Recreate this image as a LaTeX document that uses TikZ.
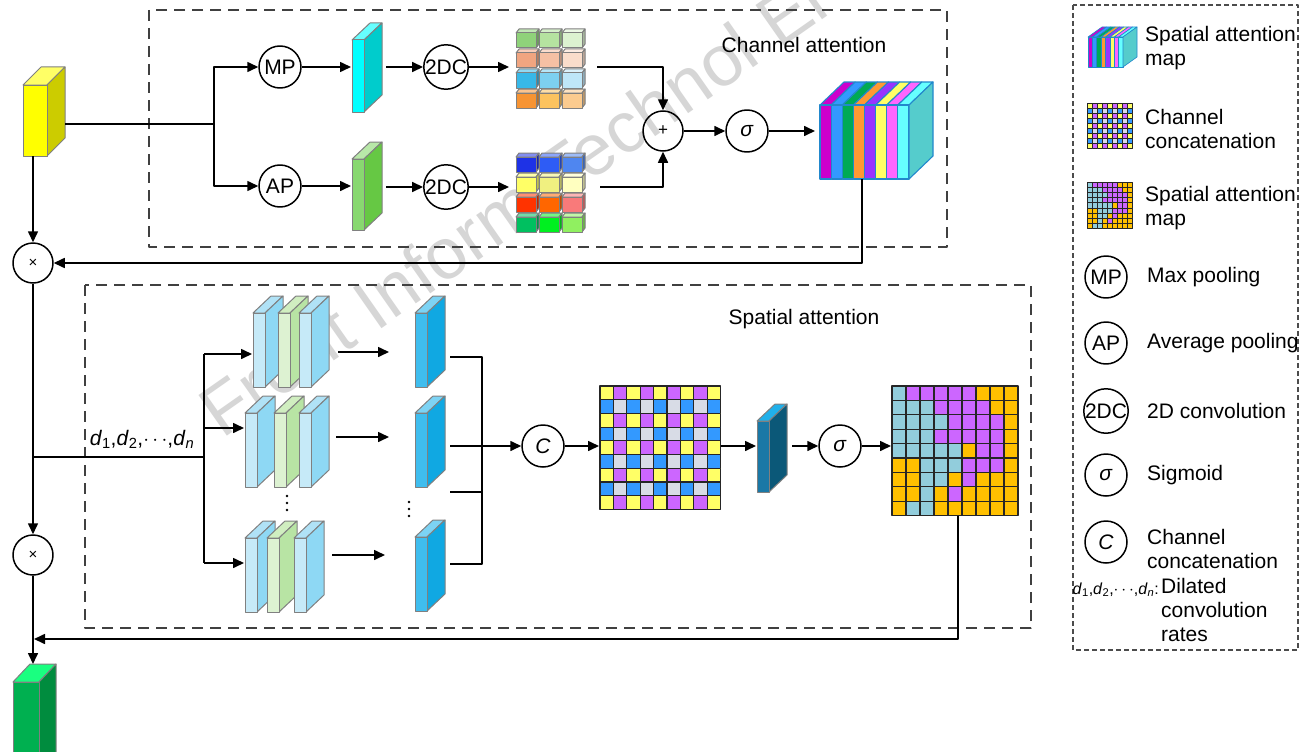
\documentclass[tikz,border=0pt]{standalone}
\usepackage{fontspec}
\setmainfont{Liberation Sans}
\usetikzlibrary{arrows.meta}
\definecolor{yF}{HTML}{FFFF00}\definecolor{yS}{HTML}{CCCC00}\definecolor{yT}{HTML}{FFFF66}
\definecolor{cyF}{HTML}{00FFFF}\definecolor{cyS}{HTML}{00CCCC}\definecolor{cyT}{HTML}{66FFFF}
\definecolor{apF}{HTML}{88D870}\definecolor{apS}{HTML}{66C844}\definecolor{apT}{HTML}{B8E8A8}
\definecolor{lbF}{HTML}{C6EAF8}\definecolor{lbS}{HTML}{8ED8F4}\definecolor{lbT}{HTML}{B0E2F6}
\definecolor{lgF}{HTML}{DDF2D2}\definecolor{lgS}{HTML}{B8E4A4}\definecolor{lgT}{HTML}{D0EEC0}
\definecolor{bF}{HTML}{3FBDEE}\definecolor{bS}{HTML}{10A8E2}\definecolor{bT}{HTML}{7CD3F4}
\definecolor{dkF}{HTML}{1A78A6}\definecolor{dkS}{HTML}{0B5878}\definecolor{dkT}{HTML}{20B0EA}
\definecolor{gnF}{HTML}{00B050}\definecolor{gnS}{HTML}{008C3E}\definecolor{gnT}{HTML}{1AFF80}
\definecolor{chk0}{HTML}{FFFF66}\definecolor{chk1}{HTML}{CC66FF}\definecolor{chk2}{HTML}{3399FF}\definecolor{chk3}{HTML}{D8DCE6}
\definecolor{smB}{HTML}{92CDDC}\definecolor{smP}{HTML}{CC66FF}\definecolor{smO}{HTML}{FFC000}
\definecolor{cm1}{HTML}{CC00CC}\definecolor{cm2}{HTML}{3399FF}\definecolor{cm3}{HTML}{00AA55}\definecolor{cm4}{HTML}{FF9933}
\definecolor{cm5}{HTML}{9933FF}\definecolor{cm6}{HTML}{FFFF66}\definecolor{cm7}{HTML}{FF66FF}\definecolor{cm8}{HTML}{66FFFF}
\definecolor{cmS}{HTML}{55CCCC}\definecolor{cmE}{HTML}{2288CC}
% cube grid colours
\definecolor{t00}{HTML}{8FD27A}\definecolor{t01}{HTML}{B5E3A0}\definecolor{t02}{HTML}{DCF2D0}
\definecolor{t10}{HTML}{F0A580}\definecolor{t11}{HTML}{F5C0A4}\definecolor{t12}{HTML}{FADDCB}
\definecolor{t20}{HTML}{38B8E8}\definecolor{t21}{HTML}{7DD0F0}\definecolor{t22}{HTML}{BEE6F8}
\definecolor{t30}{HTML}{F79433}\definecolor{t31}{HTML}{FCC35F}\definecolor{t32}{HTML}{FBCB8F}
\definecolor{u00}{HTML}{1E32E6}\definecolor{u01}{HTML}{2E5CF5}\definecolor{u02}{HTML}{4F86F0}
\definecolor{u10}{HTML}{FFFF66}\definecolor{u11}{HTML}{F0F080}\definecolor{u12}{HTML}{FFFFC0}
\definecolor{u20}{HTML}{FF3300}\definecolor{u21}{HTML}{FF6600}\definecolor{u22}{HTML}{F97A7A}
\definecolor{u30}{HTML}{00C060}\definecolor{u31}{HTML}{00F020}\definecolor{u32}{HTML}{90F060}

% cuboid: x y (top-left of front) w h dx dy front side top
\newcommand\cub[9]{%
  \filldraw[cubedge, fill=#9] (#1,#2) -- ++(#5,-#6) -- ++(#3,0) -- ++(-#5,#6) -- cycle;
  \filldraw[cubedge, fill=#8] (#1+#3,#2) -- ++(#5,-#6) -- ++(0,#4) -- ++(-#5,#6) -- cycle;
  \filldraw[cubedge, fill=#7] (#1,#2) rectangle ++(#3,#4);
}
% channel attention map: x y w h dx dy linewidth
\newcommand\chmap[7]{%
  \foreach \col [count=\i from 0] in {cm1,cm2,cm3,cm4,cm5,cm6,cm7,cm8}{%
    \filldraw[fill=\col, draw=cmE, line width=#7] ({#1+\i*#3/8},#2) -- ++(#5,-#6) -- ++({#3/8},0) -- ++(-#5,#6) -- cycle;
    \filldraw[fill=\col, draw=cmE, line width=#7] ({#1+\i*#3/8},#2) rectangle ++({#3/8},#4);
  }
  \filldraw[fill=cmS, draw=cmE, line width=#7] ({#1+#3},#2) -- ++(#5,-#6) -- ++(0,#4) -- ++(-#5,#6) -- cycle;
}
% checker grid: x y cw ch lw
\newcommand\chkgrid[5]{%
  \foreach \r in {0,...,8}{\foreach \c in {0,...,8}{%
    \pgfmathtruncatemacro\k{mod(\r,2)*2+mod(\c,2)}
    \filldraw[fill=chk\k, draw=black!85, line width=#5] ({#1+\c*#3},{#2+\r*#4}) rectangle ++(#3,#4);
  }}
}
% spatial attention map grid: x y cw ch lw
\newcommand\smap[5]{%
  \foreach \row [count=\r from 0] in {{B,P,P,P,P,P,O,O,O},{B,B,B,P,P,P,P,O,O},{B,B,B,B,P,P,P,P,O},{B,B,B,P,P,P,P,P,O},{B,B,B,B,B,O,P,P,O},{O,O,B,B,B,P,P,P,O},{O,O,B,B,O,P,O,O,O},{O,O,B,O,P,O,O,O,O},{O,B,B,O,O,O,O,O,O}}{%
    \foreach \cl [count=\c from 0] in \row {%
      \filldraw[fill=sm\cl, draw=black!85, line width=#5] ({#1+\c*#3},{#2+\r*#4}) rectangle ++(#3,#4);
    }
  }
}
\newcommand\dseq{\textit{d}\textsubscript{1},\textit{d}\textsubscript{2},$\cdots$,\textit{d}\textsubscript{\textit{n}}}

\begin{document}
\begin{tikzpicture}[x=1pt,y=-1pt,line join=round,
  ln/.style={line width=1.6pt, draw=black},
  arr/.style={ln, -{Triangle[length=11pt,width=10pt]}},
  op/.style={circle, draw, line width=1.5pt, minimum size=42pt, inner sep=0pt, font=\fontsize{21}{21}\selectfont},
  mul/.style={circle, draw, line width=1.5pt, minimum size=40pt, inner sep=0pt, font=\fontsize{15}{15}\selectfont},
  dashbox/.style={draw=black!75, line width=1.5pt, dash pattern=on 11pt off 7pt},
  legbox/.style={draw=black!70, line width=1.2pt, dash pattern=on 5pt off 3pt},
  lbl/.style={font=\fontsize{21}{24}\selectfont, align=left, inner sep=0pt},
  cubedge/.style={draw=black!50, line width=1pt},
  wm/.style={font=\fontsize{72}{72}\selectfont, text=black!16, rotate=35, anchor=base west, inner sep=0pt}]
\useasboundingbox (0,0) rectangle (1301,752);
\clip (0,0) rectangle (1301,752);
\fill[white] (0,0) rectangle (1301,752);
\node[wm] (wm) at (222,440) {Front Inform Technol El};

% dashed frames
\draw[dashbox] (149,10) rectangle (947,247);
\draw[dashbox] (85,285) rectangle (1031,628);
\draw[legbox] (1073,5) rectangle (1298,650);
\node[lbl] (cat) at (804,45) {Channel attention};
\node[lbl] (sat) at (804,319) {Spatial attention};

% ---------- channel attention ----------
\cub{23}{85}{24}{71}{18}{18}{yF}{yS}{yT}
\coordinate (inR) at (65,124);
\coordinate (inB) at (33,156);
\coordinate (j1) at (214,124);
\node[op] (mp) at (280,67) {MP};
\node[op] (ap) at (280,186) {AP};
\draw[ln] (inR) -- (j1);
\draw[arr] (j1) |- (mp);
\draw[arr] (j1) |- (ap);

\cub{352}{40}{12}{72}{18}{17}{cyF}{cyS}{cyT}
\cub{352}{159}{12}{71}{18}{17}{apF}{apS}{apT}
\coordinate (cyL) at (351,67);
\coordinate (cyR) at (386,67);
\coordinate (gnL) at (351,186);
\coordinate (gnR) at (386,187);
\draw[arr] (mp) -- (cyL);
\draw[arr] (ap) -- (gnL);
\node[op] (dc1) at (446,67) {2DC};
\node[op] (dc2) at (446,187) {2DC};
\draw[arr] (cyR) -- (dc1);
\draw[arr] (gnR) -- (dc2);

\foreach \r in {0,...,3}{\foreach \c in {0,...,2}{%
  \cub{516+23*\c}{33+20*\r}{20}{15}{3}{4}{t\r\c}{t\r\c!75!black}{t\r\c!55!white}
  \cub{516+23*\c}{157+20*\r}{20}{15}{3}{4}{u\r\c}{u\r\c!75!black}{u\r\c!55!white}
}}
\coordinate (g1L) at (509,67);
\coordinate (g2L) at (509,187);
\coordinate (g1R) at (597,67);
\coordinate (g2R) at (600,187);
\draw[arr] (dc1) -- (g1L);
\draw[arr] (dc2) -- (g2L);
\node[mul, font=\fontsize{17}{17}\selectfont] (plus) at (663,131) {+};
\node[op] (sig1) at (747,131) {\textit{σ}};
\draw[arr] (g1R) -| (plus);
\draw[arr] (g2R) -| (plus);
\draw[arr] (plus) -- (sig1);

\chmap{820}{105}{89}{74}{24}{23}{1.1pt}
\coordinate (mapL) at (815,131);
\coordinate (mapB) at (862,179);
\draw[arr] (sig1) -- (mapL);

\node[mul] (mul1) at (33,263) {×};
\draw[arr] (inB) -- (mul1);
\draw[arr] (mapB) |- (mul1);

% ---------- spatial attention ----------
\node[mul] (mul2) at (33,555) {×};
\draw[arr] (mul1) -- (mul2);
\coordinate (j2) at (33,457);
\coordinate (j3) at (204,457);
\coordinate (b1) at (204,354);
\coordinate (b2) at (204,428);
\coordinate (b3) at (204,563);
\draw[ln] (j2) -- (j3);
\draw[ln] (b1) -- (b3);
\node[lbl, anchor=base] (dl) at (142,445) {\dseq};
\coordinate (s1L) at (252,354);
\coordinate (s2L) at (244,428);
\coordinate (s3L) at (244,563);
\draw[arr] (b1) -- (s1L);
\draw[arr] (b2) -- (s2L);
\draw[arr] (b3) -- (s3L);

% groups of dilated convolutions
\cub{253}{313}{12}{74}{18}{17}{lbF}{lbS}{lbT}
\cub{278}{313}{12}{74}{18}{17}{lgF}{lgS}{lgT}
\cub{299}{313}{12}{74}{18}{17}{lbF}{lbS}{lbT}
\cub{245}{413}{12}{74}{18}{17}{lbF}{lbS}{lbT}
\cub{274}{413}{12}{74}{18}{17}{lgF}{lgS}{lgT}
\cub{299}{413}{12}{74}{18}{17}{lbF}{lbS}{lbT}
\cub{245}{538}{12}{74}{18}{17}{lbF}{lbS}{lbT}
\cub{267}{538}{12}{74}{18}{17}{lgF}{lgS}{lgT}
\cub{294}{538}{12}{74}{18}{17}{lbF}{lbS}{lbT}
\foreach \yy in {496,503,510}{\fill (287,\yy) circle (1.3);}
\foreach \yy in {502,509,516}{\fill (409,\yy) circle (1.3);}

\coordinate (m1a) at (338,352); \coordinate (m1b) at (389,352);
\coordinate (m2a) at (336,437); \coordinate (m2b) at (389,437);
\coordinate (m3a) at (332,555); \coordinate (m3b) at (385,555);
\draw[arr] (m1a) -- (m1b);
\draw[arr] (m2a) -- (m2b);
\draw[arr] (m3a) -- (m3b);

\cub{415}{313}{12}{74}{18}{17}{bF}{bS}{bT}
\cub{415}{413}{12}{74}{18}{17}{bF}{bS}{bT}
\cub{415}{537}{12}{74}{18}{17}{bF}{bS}{bT}

\coordinate (o1) at (450,357); \coordinate (k1) at (482,357);
\coordinate (o2) at (450,446);
\coordinate (o4) at (450,492); \coordinate (k4) at (482,492);
\coordinate (o3) at (450,564); \coordinate (k3) at (482,564);
\draw[ln] (o1) -- (k1) -- (k3) -- (o3);
\draw[ln] (o4) -- (k4);
\node[op] (cc) at (543,446) {\textit{C}};
\draw[arr] (o2) -- (cc);

\chkgrid{600}{386}{13.4}{13.7}{1.2pt}
\coordinate (gridL) at (599,446);
\coordinate (gridR) at (721,446);
\draw[arr] (cc) -- (gridL);

\cub{757}{421}{12}{71}{18}{17}{dkF}{dkS}{dkT}
\coordinate (dkL) at (756,446);
\coordinate (dkR) at (792,446);
\draw[arr] (gridR) -- (dkL);
\node[op] (sig2) at (840,446) {\textit{σ}};
\draw[arr] (dkR) -- (sig2);

\smap{892}{386}{14}{14.4}{1.2pt}
\coordinate (smL) at (891,446);
\coordinate (smB) at (958,516);
\coordinate (retE) at (34,639);
\draw[arr] (sig2) -- (smL);
\draw[arr] (smB) |- (retE);

\cub{13}{682}{26}{100}{17}{18}{gnF}{gnS}{gnT}
\coordinate (outT) at (33,664);
\draw[arr] (mul2) -- (outT);

% ---------- legend ----------
\chmap{1088}{37}{35}{30}{14}{10}{0.6pt}
\node[lbl, anchor=west] (l1) at (1145,48) {Spatial attention\\map};
\chkgrid{1087}{103}{5.1}{5.1}{0.9pt}
\node[lbl, anchor=west] (l2) at (1145,129) {Channel\\concatenation};
\smap{1087}{182}{5.1}{5.2}{0.9pt}
\node[lbl, anchor=west] (l3) at (1145,208) {Spatial attention\\map};
\node[op] (lmp) at (1106,277) {MP};
\node[lbl, anchor=west] (l4) at (1147,277) {Max pooling};
\node[op] (lap) at (1106,343) {AP};
\node[lbl, anchor=west] (l5) at (1147,343) {Average pooling};
\node[op] (ldc) at (1106,411) {2DC};
\node[lbl, anchor=west] (l6) at (1147,411) {2D convolution};
\node[op] (lsg) at (1106,475) {\textit{σ}};
\node[lbl, anchor=west] (l7) at (1147,475) {Sigmoid};
\node[op] (lcc) at (1106,542) {\textit{C}};
\node[lbl, anchor=west] (l8) at (1147,549) {Channel\\concatenation};
\node[lbl, anchor=base east, font=\fontsize{16}{24}\selectfont] (l9a) at (1159,594) {\dseq:};
\node[lbl, anchor=west] (l9b) at (1161,610) {Dilated\\convolution\\rates};
\end{tikzpicture}
\end{document}
